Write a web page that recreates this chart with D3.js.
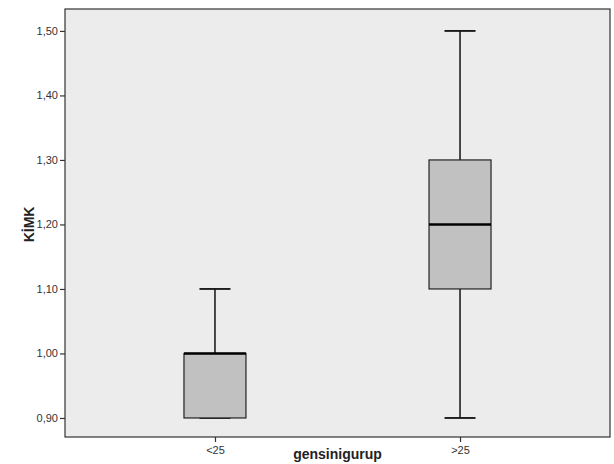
<!DOCTYPE html>
<html>
<head>
<meta charset="utf-8">
<script src="https://cdn.jsdelivr.net/npm/d3@7"></script>
<style>
  body { margin: 0; background: #fff; }
  svg { display: block; font-family: Arial, "Liberation Sans", sans-serif; }
</style>
</head>
<body>
<div id="chart"></div>
<script>
// groups and their box stats
var groups = ["<25", ">25"]
var lowWhisker = [0.90, 0.90]
var q1 = [0.90, 1.10]
var median = [1.00, 1.20]
var q3 = [1.00, 1.30]
var highWhisker = [1.10, 1.50]
var yTicks = [0.90, 1.00, 1.10, 1.20, 1.30, 1.40, 1.50]

var W = 614, H = 464
var m = {left: 65, right: 4, top: 9, bottom: 27}

var svg = d3.select("#chart").append("svg")
  .attr("width", W)
  .attr("height", H)

var x = d3.scalePoint()
  .domain(groups)
  .range([m.left, W - m.right])
  .padding(0.612)

var y = d3.scaleLinear()
  .domain([0.8705, 1.534])
  .range([H - m.bottom, m.top])

// plot background
svg.append("rect")
  .attr("x", m.left)
  .attr("y", m.top)
  .attr("width", W - m.left - m.right)
  .attr("height", H - m.top - m.bottom)
  .style("fill", "#ececec")
  .style("stroke", "#333")
  .style("stroke-width", 1.2)

var fmt = function(d){ return d3.format(".2f")(d).replace(".", ",") }

var yAxis = svg.append("g")
  .attr("transform", "translate(" + m.left + ",0)")
  .call(d3.axisLeft(y).tickValues(yTicks).tickSize(5).tickPadding(2).tickFormat(fmt))
yAxis.select(".domain").remove()
yAxis.selectAll("line").style("stroke", "#333").style("stroke-width", 1.2)
yAxis.selectAll("text").style("font-size", "11px").style("fill", "#333")

var xAxis = svg.append("g")
  .attr("transform", "translate(0," + (H - m.bottom) + ")")
  .call(d3.axisBottom(x).tickSize(5).tickPadding(4))
xAxis.select(".domain").remove()
xAxis.selectAll("line").style("stroke", "#333").style("stroke-width", 1.2)
xAxis.selectAll("text").style("font-size", "11px").style("fill", "#333")

svg.append("text")
  .attr("transform", "translate(34," + y(1.20) + ") rotate(-90)")
  .attr("text-anchor", "middle")
  .style("font-size", "14px")
  .style("font-weight", "bold")
  .style("fill", "#222")
  .text("KİMK")

svg.append("text")
  .attr("x", (m.left + W - m.right) / 2)
  .attr("y", 459)
  .attr("text-anchor", "middle")
  .style("font-size", "14px")
  .style("font-weight", "bold")
  .style("fill", "#222")
  .text("gensinigurup")

var boxW = 62, capW = 31

groups.forEach(function(g, i){
  var cx = x(g)
  var grp = svg.append("g")

  // whiskers
  grp.append("line")
    .attr("x1", cx).attr("x2", cx)
    .attr("y1", y(highWhisker[i])).attr("y2", y(q3[i]))
    .style("stroke", "#111").style("stroke-width", 1.5)
  grp.append("line")
    .attr("x1", cx).attr("x2", cx)
    .attr("y1", y(lowWhisker[i])).attr("y2", y(q1[i]))
    .style("stroke", "#111").style("stroke-width", 1.5)
  ;[highWhisker[i], lowWhisker[i]].forEach(function(v){
    grp.append("line")
      .attr("x1", cx - capW / 2).attr("x2", cx + capW / 2)
      .attr("y1", y(v)).attr("y2", y(v))
      .style("stroke", "#111").style("stroke-width", 1.8)
  })

  grp.append("rect")
    .attr("x", cx - boxW / 2)
    .attr("y", y(q3[i]))
    .attr("width", boxW)
    .attr("height", y(q1[i]) - y(q3[i]))
    .style("fill", "#c1c1c1")
    .style("stroke", "#222")
    .style("stroke-width", 1.2)

  grp.append("line")
    .attr("x1", cx - boxW / 2).attr("x2", cx + boxW / 2)
    .attr("y1", y(median[i])).attr("y2", y(median[i]))
    .style("stroke", "#000").style("stroke-width", 2.5)
})
</script>
</body>
</html>
